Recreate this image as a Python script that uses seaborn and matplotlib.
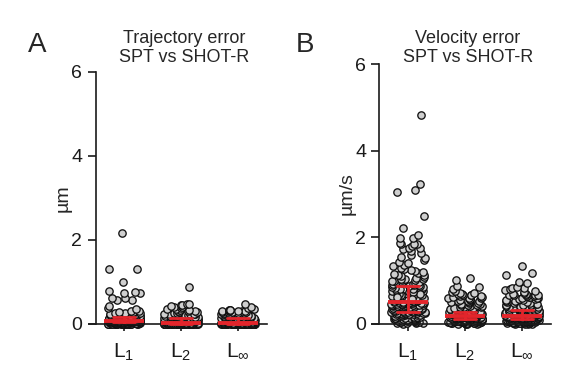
import numpy as np
import pandas as pd
import matplotlib
matplotlib.use("Agg")
import matplotlib.pyplot as plt
import seaborn as sns

# ---------------- data ----------------
norms = ["L1", "L2", "Linf"]
norm_labels = [r"$\mathrm{L}_{1}$", r"$\mathrm{L}_{2}$", r"$\mathrm{L}_{\infty}$"]

traj_L1 = [0.00, 0.00, 0.00, 0.00, 0.00, 0.00, 0.00, 0.00, 0.00, 0.00, 0.00, 0.00,
           0.01, 0.01, 0.01, 0.01, 0.01, 0.01, 0.01, 0.01, 0.01, 0.01, 0.01, 0.01,
           0.02, 0.02, 0.02, 0.02, 0.02, 0.02, 0.02, 0.02, 0.02, 0.02, 0.02, 0.02,
           0.03, 0.03, 0.03, 0.03, 0.03, 0.03, 0.03, 0.03, 0.03, 0.03, 0.03, 0.03,
           0.04, 0.04, 0.04, 0.04, 0.04, 0.04, 0.04, 0.04, 0.04, 0.04, 0.04, 0.04, 0.04,
           0.05, 0.05, 0.05, 0.05, 0.05, 0.05, 0.05, 0.05, 0.05, 0.05, 0.05, 0.05, 0.05,
           0.06, 0.06, 0.06, 0.06, 0.06, 0.06, 0.06, 0.06, 0.06, 0.06, 0.06, 0.06, 0.06,
           0.07, 0.07, 0.07, 0.07, 0.07, 0.07, 0.07, 0.07, 0.07, 0.07, 0.07, 0.07, 0.07,
           0.08, 0.08, 0.08, 0.08, 0.08, 0.08, 0.09, 0.09, 0.09, 0.09, 0.09, 0.09,
           0.10, 0.10, 0.10, 0.10, 0.10, 0.10, 0.11, 0.11, 0.11, 0.11, 0.11,
           0.12, 0.12, 0.12, 0.12, 0.12, 0.13, 0.13, 0.13, 0.13, 0.13,
           0.14, 0.14, 0.14, 0.14, 0.14, 0.15, 0.15, 0.15, 0.15, 0.15,
           0.16, 0.16, 0.16, 0.16, 0.17, 0.17, 0.17, 0.17, 0.18, 0.18, 0.18, 0.18,
           0.19, 0.19, 0.19, 0.19, 0.20, 0.20, 0.20, 0.20, 0.21, 0.21, 0.21,
           0.22, 0.22, 0.22, 0.23, 0.23, 0.23, 0.24, 0.24, 0.24, 0.25, 0.25,
           0.26, 0.26, 0.27, 0.27, 0.28, 0.29, 0.30, 0.32,
           0.35, 0.38, 0.43, 0.56, 0.56, 0.61, 0.61, 0.73, 0.74, 0.76, 0.79, 0.99, 1.32, 1.32, 2.17]
traj_L2 = [0.00, 0.00, 0.00, 0.00, 0.00, 0.00, 0.00, 0.00, 0.00, 0.00,
           0.00, 0.00, 0.00, 0.00, 0.00, 0.00, 0.00, 0.00, 0.00, 0.00,
           0.00, 0.00, 0.00, 0.00, 0.00, 0.00, 0.00, 0.00, 0.00, 0.00,
           0.01, 0.01, 0.01, 0.01, 0.01, 0.01, 0.01, 0.01, 0.01, 0.01,
           0.01, 0.01, 0.01, 0.01, 0.01, 0.01, 0.01, 0.01, 0.01, 0.01,
           0.01, 0.01, 0.01, 0.01, 0.01, 0.01, 0.01, 0.01, 0.01, 0.01,
           0.01, 0.01, 0.01, 0.01, 0.01,
           0.02, 0.02, 0.02, 0.02, 0.02, 0.02, 0.02, 0.02, 0.02, 0.02,
           0.02, 0.02, 0.02, 0.02, 0.02, 0.02, 0.02, 0.02, 0.02, 0.02,
           0.02, 0.02, 0.02, 0.02, 0.02, 0.02, 0.02, 0.02, 0.02, 0.02,
           0.02, 0.02, 0.02, 0.02, 0.02,
           0.03, 0.03, 0.03, 0.03, 0.03, 0.04, 0.04, 0.04, 0.04, 0.04,
           0.05, 0.05, 0.05, 0.05, 0.05, 0.06, 0.06, 0.06, 0.06, 0.06,
           0.07, 0.07, 0.07, 0.07, 0.07, 0.08, 0.08, 0.08, 0.08, 0.08,
           0.09, 0.09, 0.09, 0.09, 0.09, 0.10, 0.10, 0.10, 0.10,
           0.11, 0.11, 0.11, 0.11, 0.12, 0.12, 0.12, 0.12, 0.13, 0.13, 0.13, 0.13,
           0.14, 0.14, 0.14, 0.14, 0.15, 0.15, 0.15, 0.15,
           0.16, 0.16, 0.16, 0.17, 0.17, 0.17, 0.18, 0.18, 0.18, 0.19, 0.19, 0.19,
           0.20, 0.20, 0.20, 0.21, 0.21, 0.22, 0.22, 0.23, 0.23, 0.24, 0.24, 0.25, 0.25,
           0.26, 0.27, 0.28, 0.29, 0.30,
           0.31, 0.32, 0.33, 0.34, 0.35, 0.36, 0.38, 0.40, 0.40, 0.43, 0.45, 0.45, 0.47, 0.47, 0.89]
traj_Linf = [0.00, 0.00, 0.00, 0.00, 0.00, 0.00, 0.00, 0.00, 0.00, 0.00,
             0.00, 0.00, 0.00, 0.00, 0.00, 0.00, 0.00, 0.00, 0.00, 0.00,
             0.00, 0.00, 0.00, 0.00, 0.00, 0.00, 0.00, 0.00, 0.00, 0.00,
             0.01, 0.01, 0.01, 0.01, 0.01, 0.01, 0.01, 0.01, 0.01, 0.01,
             0.01, 0.01, 0.01, 0.01, 0.01, 0.01, 0.01, 0.01, 0.01, 0.01,
             0.01, 0.01, 0.01, 0.01, 0.01, 0.01, 0.01, 0.01, 0.01, 0.01,
             0.01, 0.01, 0.01, 0.01, 0.01,
             0.02, 0.02, 0.02, 0.02, 0.02, 0.02, 0.02, 0.02, 0.02, 0.02,
             0.02, 0.02, 0.02, 0.02, 0.02, 0.02, 0.02, 0.02, 0.02, 0.02,
             0.02, 0.02, 0.02, 0.02, 0.02, 0.02, 0.02, 0.02, 0.02, 0.02,
             0.02, 0.02, 0.02, 0.02, 0.02,
             0.03, 0.03, 0.03, 0.03, 0.03, 0.04, 0.04, 0.04, 0.04, 0.04,
             0.05, 0.05, 0.05, 0.05, 0.05, 0.06, 0.06, 0.06, 0.06, 0.06,
             0.07, 0.07, 0.07, 0.07, 0.07, 0.08, 0.08, 0.08, 0.08, 0.08,
             0.09, 0.09, 0.09, 0.09, 0.09, 0.10, 0.10, 0.10, 0.10,
             0.11, 0.11, 0.11, 0.11, 0.12, 0.12, 0.12, 0.12, 0.13, 0.13, 0.13, 0.13,
             0.14, 0.14, 0.14, 0.14, 0.15, 0.15, 0.15, 0.15,
             0.16, 0.16, 0.16, 0.17, 0.17, 0.17, 0.18, 0.18, 0.18, 0.19, 0.19, 0.19,
             0.20, 0.20, 0.20, 0.21, 0.21, 0.22, 0.22, 0.23, 0.23, 0.24, 0.24, 0.25, 0.25,
             0.26, 0.26, 0.27, 0.27, 0.28,
             0.28, 0.29, 0.29, 0.30, 0.30, 0.31, 0.31, 0.32, 0.33, 0.33, 0.34, 0.36, 0.38, 0.40, 0.48]

vel_L1 = [0.01, 0.02, 0.02, 0.03, 0.03, 0.04, 0.04, 0.05, 0.05, 0.06, 0.06, 0.07, 0.07, 0.08, 0.08,
          0.09, 0.09, 0.10, 0.10, 0.11, 0.11, 0.12, 0.12, 0.13, 0.13, 0.14, 0.14, 0.15, 0.15, 0.16,
          0.16, 0.17, 0.17, 0.18, 0.18, 0.19, 0.19, 0.20, 0.20, 0.21, 0.21, 0.22, 0.22, 0.23, 0.23,
          0.24, 0.24, 0.25, 0.25, 0.25, 0.26, 0.26, 0.26, 0.27, 0.27, 0.27, 0.28,
          0.28, 0.29, 0.29, 0.30, 0.30, 0.30, 0.31, 0.31, 0.32, 0.32, 0.32, 0.33, 0.33, 0.34, 0.34,
          0.34, 0.35, 0.35, 0.36, 0.36, 0.36, 0.37, 0.37, 0.38, 0.38, 0.38, 0.39, 0.39, 0.40, 0.40,
          0.40, 0.41, 0.41, 0.42, 0.42, 0.42, 0.43, 0.43, 0.44, 0.44, 0.44, 0.45, 0.45, 0.46, 0.46,
          0.46, 0.47, 0.47, 0.48, 0.48, 0.48, 0.49, 0.49, 0.49, 0.50, 0.50, 0.50,
          0.51, 0.51, 0.52, 0.53, 0.53, 0.54, 0.55, 0.56, 0.56, 0.57, 0.58, 0.59, 0.59, 0.60, 0.61,
          0.62, 0.62, 0.63, 0.64, 0.65, 0.65, 0.66, 0.67, 0.68, 0.68, 0.69, 0.70, 0.71, 0.71, 0.72,
          0.73, 0.74, 0.74, 0.75, 0.76, 0.77, 0.77, 0.78, 0.79, 0.80, 0.80, 0.81, 0.82, 0.83, 0.83,
          0.84, 0.85, 0.86, 0.86, 0.55, 0.60, 0.65, 0.70, 0.75, 0.80, 0.58, 0.63,
          0.87, 0.88, 0.89, 0.90, 0.91, 0.92, 0.93, 0.94, 0.95, 0.96, 0.97, 0.98, 0.99, 1.00, 1.01,
          1.02, 1.03, 1.04, 1.05, 1.06, 1.08, 1.10, 1.12, 1.14, 1.16, 1.18, 1.20, 1.22, 1.24,
          1.27, 1.30, 1.33, 1.36, 1.40, 1.44, 1.48, 1.52, 1.55, 1.60, 1.64, 1.68, 1.72,
          1.75, 1.75, 1.80, 1.85, 1.85, 1.85, 1.86, 1.98, 1.98, 2.06, 2.22, 2.50,
          3.05, 3.10, 3.23, 4.83]
vel_L2 = [0.01, 0.01, 0.01, 0.01, 0.02, 0.02, 0.02, 0.02, 0.02, 0.03, 0.03, 0.03, 0.03, 0.03,
          0.04, 0.04, 0.04, 0.04, 0.04, 0.05, 0.05, 0.05, 0.05, 0.05, 0.05,
          0.06, 0.06, 0.06, 0.06, 0.06, 0.06, 0.07, 0.07, 0.07, 0.07, 0.07, 0.07,
          0.08, 0.08, 0.08, 0.08, 0.08, 0.08, 0.09, 0.09, 0.09, 0.09, 0.09, 0.09, 0.09,
          0.10, 0.10, 0.10, 0.10, 0.10, 0.10, 0.10,
          0.11, 0.11, 0.11, 0.11, 0.11, 0.11, 0.12, 0.12, 0.12, 0.12, 0.12, 0.12,
          0.13, 0.13, 0.13, 0.13, 0.13, 0.13, 0.14, 0.14, 0.14, 0.14, 0.14, 0.14,
          0.15, 0.15, 0.15, 0.15, 0.15, 0.15, 0.15, 0.16, 0.16, 0.16, 0.16, 0.16, 0.16, 0.16,
          0.17, 0.17, 0.17, 0.17, 0.17, 0.17, 0.17, 0.18, 0.18, 0.18, 0.18, 0.18, 0.18,
          0.19, 0.19, 0.19, 0.19, 0.19, 0.19,
          0.20, 0.20, 0.20, 0.20, 0.20, 0.20, 0.21, 0.21, 0.21, 0.21, 0.21, 0.21,
          0.22, 0.22, 0.22, 0.22, 0.22, 0.22, 0.23, 0.23, 0.23, 0.23, 0.23, 0.23,
          0.24, 0.24, 0.24, 0.24, 0.24, 0.24, 0.25, 0.25, 0.25, 0.25, 0.25, 0.25,
          0.26, 0.26, 0.26, 0.26, 0.26, 0.26, 0.26, 0.27, 0.27, 0.27, 0.27, 0.27, 0.27, 0.27,
          0.28, 0.28, 0.28, 0.28, 0.28, 0.28, 0.28,
          0.29, 0.30, 0.30, 0.31, 0.32, 0.32, 0.33, 0.34, 0.34, 0.35, 0.36, 0.36, 0.37, 0.38, 0.38,
          0.39, 0.40, 0.40, 0.41, 0.42, 0.43, 0.44, 0.45, 0.46, 0.47, 0.48, 0.49, 0.50, 0.51, 0.52,
          0.53, 0.54, 0.55, 0.56, 0.57, 0.58, 0.59, 0.60, 0.61, 0.62, 0.63, 0.64, 0.65, 0.66, 0.67,
          0.68, 0.69, 0.70, 0.71, 0.72, 0.73, 0.76, 0.80, 0.85, 0.87, 1.01, 1.07]
vel_Linf = [0.01, 0.01, 0.01, 0.01, 0.02, 0.02, 0.02, 0.02, 0.02, 0.03, 0.03, 0.03, 0.03, 0.03,
            0.04, 0.04, 0.04, 0.04, 0.04, 0.05, 0.05, 0.05, 0.05, 0.05, 0.05,
            0.06, 0.06, 0.06, 0.06, 0.06, 0.06, 0.07, 0.07, 0.07, 0.07, 0.07, 0.07,
            0.08, 0.08, 0.08, 0.08, 0.08, 0.08, 0.09, 0.09, 0.09, 0.09, 0.09, 0.09, 0.09,
            0.10, 0.10, 0.10, 0.10, 0.10, 0.10, 0.10,
            0.11, 0.11, 0.11, 0.11, 0.11, 0.11, 0.12, 0.12, 0.12, 0.12, 0.12, 0.12,
            0.13, 0.13, 0.13, 0.13, 0.13, 0.13, 0.14, 0.14, 0.14, 0.14, 0.14, 0.14,
            0.15, 0.15, 0.15, 0.15, 0.15, 0.15, 0.15, 0.16, 0.16, 0.16, 0.16, 0.16, 0.16, 0.16,
            0.17, 0.17, 0.17, 0.17, 0.17, 0.17, 0.17, 0.18, 0.18, 0.18, 0.18, 0.18, 0.18,
            0.19, 0.19, 0.19, 0.19, 0.19, 0.19,
            0.20, 0.20, 0.20, 0.20, 0.21, 0.21, 0.21, 0.21, 0.22, 0.22, 0.22, 0.22,
            0.23, 0.23, 0.23, 0.23, 0.24, 0.24, 0.24, 0.24, 0.25, 0.25, 0.25, 0.25,
            0.26, 0.26, 0.26, 0.26, 0.27, 0.27, 0.27, 0.27, 0.28, 0.28, 0.28, 0.28,
            0.29, 0.29, 0.29, 0.29, 0.30, 0.30, 0.30, 0.30, 0.30,
            0.31, 0.31, 0.31, 0.31, 0.31, 0.31, 0.32, 0.32, 0.32, 0.32, 0.32, 0.32,
            0.33, 0.34, 0.34, 0.35, 0.36, 0.36, 0.37, 0.38, 0.38, 0.39, 0.40, 0.40,
            0.41, 0.42, 0.43, 0.44, 0.45, 0.46, 0.47, 0.48, 0.49, 0.50, 0.51, 0.52, 0.53, 0.54, 0.55,
            0.56, 0.57, 0.58, 0.59, 0.60, 0.61, 0.62, 0.63, 0.64, 0.65, 0.66, 0.66, 0.67, 0.68, 0.68,
            0.69, 0.70, 0.72, 0.74, 0.76, 0.78, 0.80, 0.82, 0.84, 0.86, 0.95, 0.96, 1.12, 1.18, 1.35]

y_ticks = [0, 2, 4, 6]
panel_titles = ["Trajectory error\nSPT vs SHOT-R", "Velocity error\nSPT vs SHOT-R"]
panel_letters = ["A", "B"]
y_labels = ["µm", "µm/s"]


def long_frame(groups):
    rows = []
    for name, vals in zip(norms, groups):
        rows.append(pd.DataFrame({"norm": name, "value": vals}))
    return pd.concat(rows, ignore_index=True)


df_traj = long_frame([traj_L1, traj_L2, traj_Linf])
df_vel = long_frame([vel_L1, vel_L2, vel_Linf])

# ---------------- style ----------------
sns.set_style("ticks")
plt.rcParams["font.family"] = ["Liberation Sans", "DejaVu Sans"]
plt.rcParams["mathtext.fontset"] = "custom"
plt.rcParams["mathtext.rm"] = "Liberation Sans"
plt.rcParams["mathtext.it"] = "Liberation Sans:italic"
plt.rcParams["mathtext.bf"] = "Liberation Sans:bold"

np.random.seed(3)

W, H = 582, 388
fig = plt.figure(figsize=(W / 100, H / 100), dpi=100)

layouts = [
    dict(x0=89, x1=267, top=72, bottom=324, cat0=124),
    dict(x0=372, x1=551, top=64, bottom=324, cat0=408),
]
unit = 57.0
red = "#e3252b"

for i, (df, lay) in enumerate(zip([df_traj, df_vel], layouts)):
    ax = fig.add_axes([lay["x0"] / W, 1 - lay["bottom"] / H,
                       (lay["x1"] - lay["x0"]) / W, (lay["bottom"] - lay["top"]) / H])
    sns.stripplot(data=df, x="norm", y="value", order=norms, jitter=0.3, size=5.3,
                  color="#cfcfcf", edgecolor="#111111", linewidth=0.95, ax=ax, zorder=2)
    sns.pointplot(data=df, x="norm", y="value", order=norms, estimator="median",
                  errorbar=("pi", 50), color=red, marker="_", markersize=29,
                  markeredgewidth=2.8, linestyle="none", capsize=0.37,
                  err_kws={"linewidth": 2.0}, ax=ax)
    for c in ax.collections:
        c.set_clip_on(False)
    for ln in ax.lines:
        ln.set_clip_on(False)
        ln.set_zorder(5)

    xl = (lay["x0"] - lay["cat0"]) / unit
    xr = (lay["x1"] - lay["cat0"]) / unit
    ax.set_xlim(xl, xr)
    ax.set_ylim(0, 6)
    ax.set_yticks(y_ticks)
    ax.set_xticks(range(len(norms)))
    ax.set_xticklabels(norm_labels)
    ax.set_xlabel("")
    ax.set_ylabel(y_labels[i], fontsize=14, labelpad=0)

    for s in ["top", "right"]:
        ax.spines[s].set_visible(False)
    ax.spines["left"].set_position(("data", -0.5))
    for s in ["left", "bottom"]:
        ax.spines[s].set_linewidth(1.2)
        ax.spines[s].set_color("#1a1a1a")
    ax.tick_params(axis="y", length=5.5, width=1.2, pad=4, labelsize=14, colors="#1a1a1a")
    ax.tick_params(axis="x", length=5, width=1.2, pad=8, labelsize=15, colors="#1a1a1a")
    ax.set_facecolor("none")

    cx = lay["x0"] + 0.537 * (lay["x1"] - lay["x0"])
    fig.text(cx / W, 1 - 62 / H, panel_titles[i], ha="center", va="baseline",
             fontsize=13, linespacing=1.15)

fig.text(28 / W, 1 - 52 / H, panel_letters[0], fontsize=20, va="baseline", ha="left")
fig.text(296 / W, 1 - 52 / H, panel_letters[1], fontsize=20, va="baseline", ha="left")

fig.savefig("out.png", dpi=100)
